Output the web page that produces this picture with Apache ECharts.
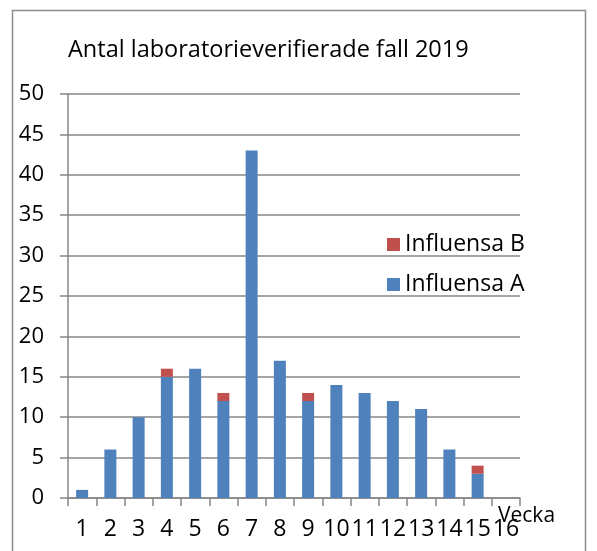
<!DOCTYPE html>
<html><head><meta charset="utf-8">
<script src="https://cdn.jsdelivr.net/npm/echarts@6/dist/echarts.min.js"></script>
<style>html,body{margin:0;padding:0;background:#fff}#c{width:597px;height:551px}</style>
</head><body><div id="c"></div>
<script>
const weeks = ['1','2','3','4','5','6','7','8','9','10','11','12','13','14','15','16'];
const influensaA = [1,6,10,15,16,12,43,17,12,14,13,12,11,6,3,0];
const influensaB = [0,0,0,1,0,1,0,0,1,0,0,0,0,0,1,0];
const titleText = 'Antal laboratorieverifierade fall 2019';
const xName = 'Vecka';
const FONT = '"Open Sans"';
const chart = echarts.init(document.getElementById('c'), null, {renderer:'canvas'});
chart.setOption({
  animation:false,
  backgroundColor:'#fff',
  title:{text:titleText,left:63,top:33,textStyle:{fontFamily:FONT,fontSize:23.5,fontWeight:'normal',color:'#000'}},
  graphic:[{type:'rect',shape:{x:12.5,y:10.5,width:573,height:560},style:{fill:'none',stroke:'#8c8c8c',lineWidth:1.5},silent:true,z:-1}],
  legend:{orient:'vertical',left:382,top:228,itemGap:17,itemWidth:13,itemHeight:13,icon:'rect',
    data:['Influensa B','Influensa A'],textStyle:{fontFamily:FONT,fontSize:23,color:'#000'}},
  grid:{left:68,right:77,top:94,bottom:53,containLabel:false},
  xAxis:{type:'category',data:weeks,name:xName,nameLocation:'end',nameGap:-22,nameMoveOverlap:false,
    nameTextStyle:{fontFamily:FONT,fontSize:21,color:'#000',verticalAlign:'top',padding:[8,0,0,0]},
    axisLine:{lineStyle:{color:'#868686',width:1.5}},
    axisTick:{show:true,length:8,lineStyle:{color:'#868686',width:1.5}},
    axisLabel:{fontFamily:FONT,fontSize:23,color:'#000',margin:20,interval:0}},
  yAxis:{type:'value',min:0,max:50,interval:5,
    axisLine:{show:true,lineStyle:{color:'#868686',width:1.5}},
    axisTick:{show:true,length:8,lineStyle:{color:'#868686',width:1.5}},
    splitLine:{lineStyle:{color:'#868686',width:1.5}},
    axisLabel:{fontFamily:FONT,fontSize:22,color:'#000',margin:24}},
  series:[
    {name:'Influensa A',type:'bar',stack:'t',data:influensaA,barWidth:12,itemStyle:{color:'#4F81BD'}},
    {name:'Influensa B',type:'bar',stack:'t',data:influensaB,barWidth:12,itemStyle:{color:'#C0504D'}}
  ]
});
</script></body></html>
